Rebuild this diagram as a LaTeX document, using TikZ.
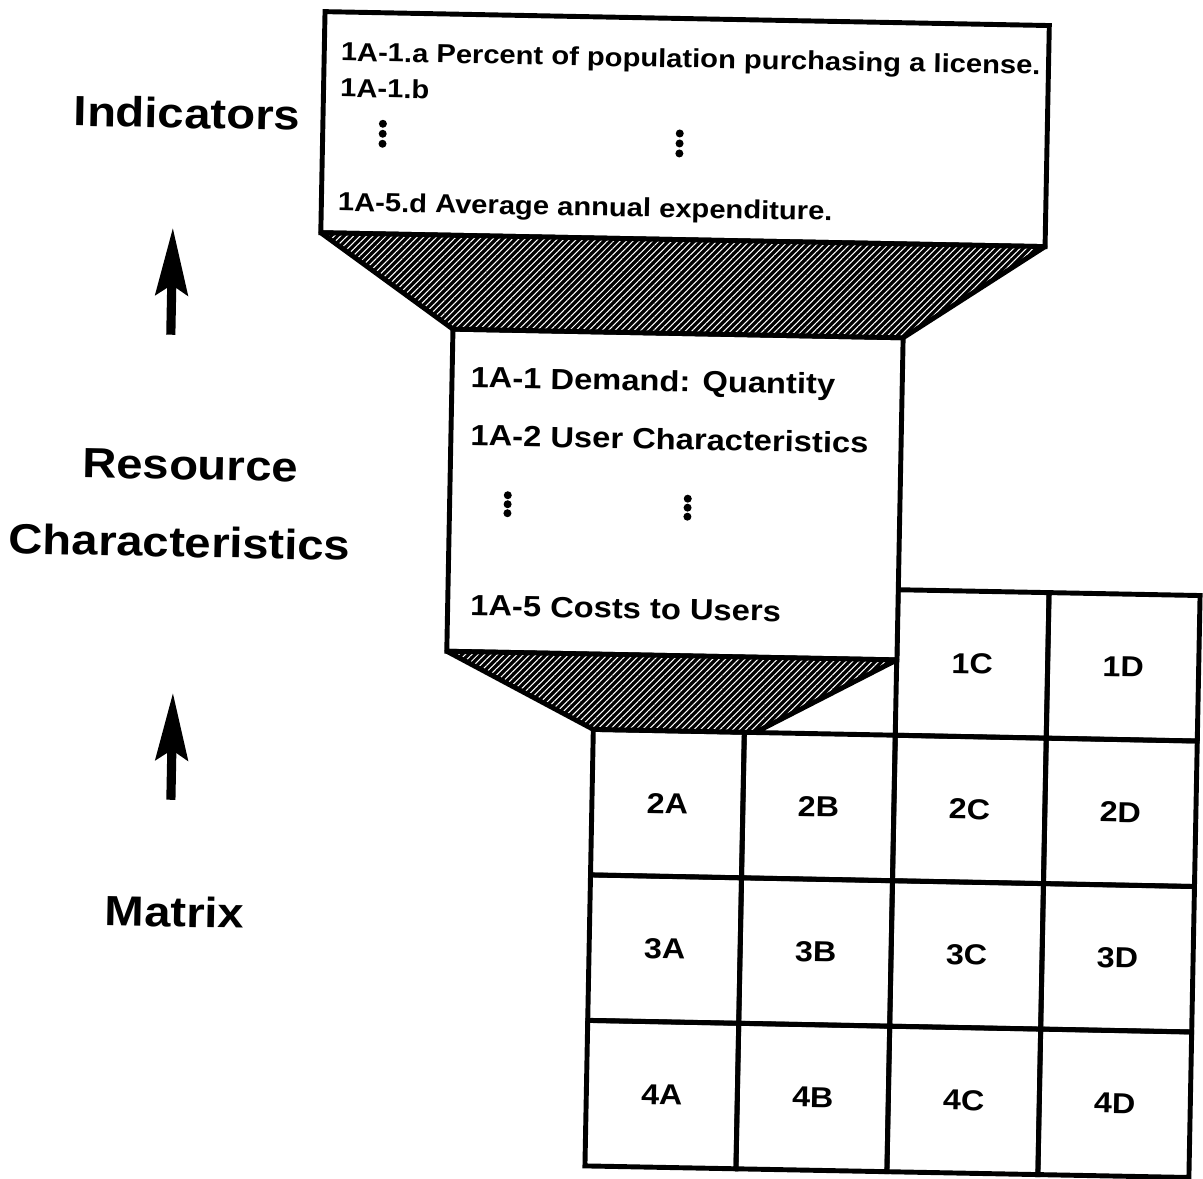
\documentclass[tikz,border=0pt]{standalone}
\usepackage{fontspec}
\setmainfont{Liberation Sans}
\newfontfamily\heavyfont{Liberation Sans Bold}[FakeStretch=1.12]
\usetikzlibrary{arrows.meta,patterns.meta}

\tikzset{
  frame/.style={draw, line width=1.4pt, fill=white, inner sep=0pt, outer sep=0pt, anchor=north west},
  funnel/.style={draw, line width=1.4pt, line join=round, preaction={fill=black},
    pattern={Lines[angle=45,distance=1.3pt,line width=0.3pt]}, pattern color=white},
  smalltext/.style={anchor=base west, inner sep=0pt, font=\heavyfont\fontsize{7.4}{9}\selectfont},
  midtext/.style={anchor=base west, inner sep=0pt, font=\heavyfont\fontsize{8.3}{10}\selectfont},
  sidelabel/.style={inner sep=0pt, font=\heavyfont\fontsize{12}{14}\selectfont},
  cell/.style={draw, line width=1.4pt, anchor=north west, inner sep=0pt, outer sep=0pt,
    minimum width=1.51cm, minimum height=1.455cm, font=\heavyfont\fontsize{8.2}{10}\selectfont},
  uparrow/.style={line width=2.6pt, -{Stealth[length=6.7mm, width=3.2mm, inset=1mm]}},
  dot/.style={circle, fill, inner sep=0pt, minimum size=0.08cm}
}

\begin{document}
\begin{tikzpicture}[x=0.01cm, y=-0.01cm]
\useasboundingbox (0,0) rectangle (1203,1178);
\begin{scope}[rotate around={-1.1:(600,589)}, transform shape]

% matrix of cells
\foreach \r in {2,3,4}
  \foreach \c [count=\i from 0] in {A,B,C,D}
    \node[cell] (c\r\c) at (596+151*\i, 584+145.5*\r-145.5) {\r\c};
\foreach \c [count=\i from 2] in {C,D}
  \node[cell] (c1\c) at (596+151*\i, 584) {1\c};

% boxes and funnels
\node[frame, minimum width=7.24cm, minimum height=2.21cm] (ind) at (314,17) {};
\node[frame, minimum width=4.5cm, minimum height=3.22cm] (res) at (448,332) {};
\coordinate (neck) at (758,729.5);
\draw[funnel] (ind.south west) -- (ind.south east) -- (res.north east) -- (res.north west) -- cycle;
\draw[funnel] (res.south west) -- (res.south east) -- (neck) -- (c2A.north west) -- cycle;

% indicator texts
\node[smalltext] (i1) at (330,66) {1A-1.a Percent of population purchasing a license.};
\node[smalltext] (i2) at (330,102) {1A-1.b};
\node[smalltext] (i5) at (330,216) {1A-5.d Average annual expenditure.};
\foreach \k [count=\n] in {-1,0,1}{
  \node[dot] (ia\n) at (374,138+10*\k) {};
  \node[dot] (ib\n) at (671,142+10*\k) {};
}

% resource texts
\node[midtext] (r1) at (466,390) {1A-1 Demand: Quantity};
\node[midtext] (r2) at (467,448) {1A-2 User Characteristics};
\node[midtext] (r5) at (470,618) {1A-5 Costs to Users};
\foreach \k [count=\n] in {-1,0,1}{
  \node[dot] (ra\n) at (506,506+9*\k) {};
  \node[dot] (rb\n) at (686,506+9*\k) {};
}

% side labels
\node[sidelabel] (lind) at (178,121) {Indicators};
\node[sidelabel] (lres) at (188,473) {Resource};
\node[sidelabel] (lchar) at (179,550) {Characteristics};
\node[sidelabel] (lmat) at (181,920) {Matrix};
\coordinate (a1s) at (166,343);
\coordinate (a1e) at (166,236);
\coordinate (a2s) at (175,808);
\coordinate (a2e) at (175,701);
\draw[uparrow] (a1s) -- (a1e);
\draw[uparrow] (a2s) -- (a2e);

\end{scope}
\end{tikzpicture}
\end{document}
